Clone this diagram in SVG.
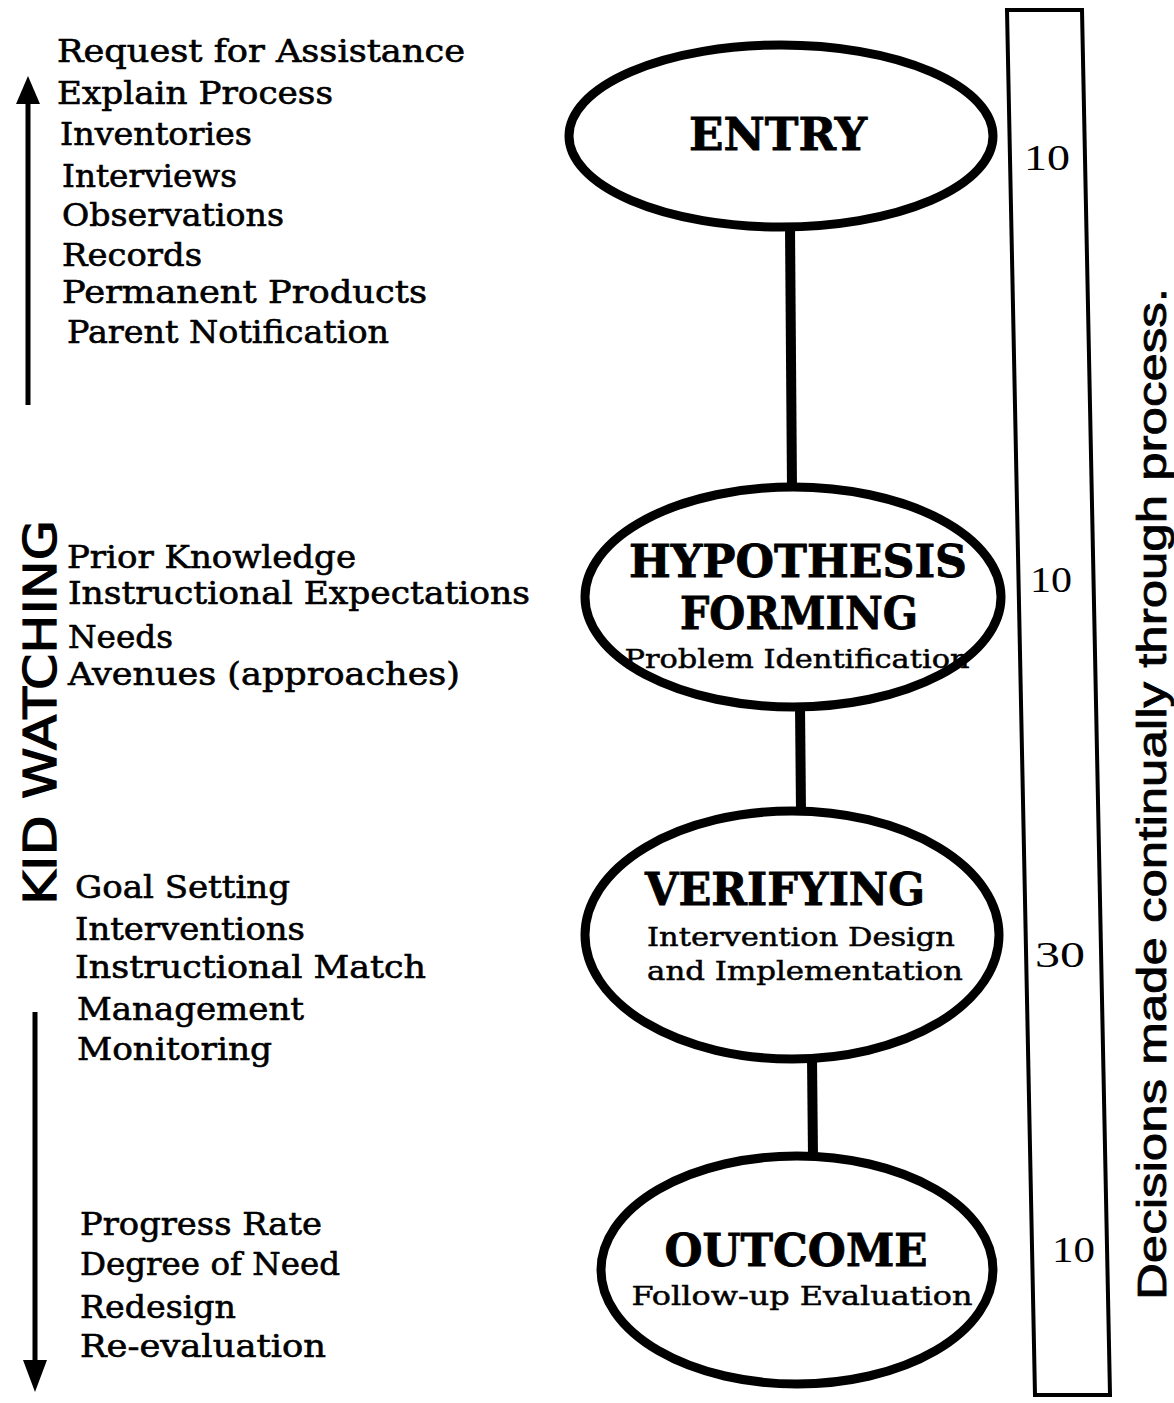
<svg xmlns="http://www.w3.org/2000/svg" width="1174" height="1403" viewBox="0 0 1174 1403">
<style>
.lst{font-family:"DejaVu Serif","Liberation Serif",serif;font-size:31px;fill:#000;stroke:#000;stroke-width:0.6}
.ttl{font-family:"DejaVu Serif","Liberation Serif",serif;font-weight:bold;font-size:44px;fill:#000;stroke:#000;stroke-width:0.8}
.sub{font-family:"DejaVu Serif","Liberation Serif",serif;font-size:26px;fill:#000;stroke:#000;stroke-width:0.5}
.num{font-family:"Liberation Serif","DejaVu Serif",serif;font-size:36px;fill:#000}
.node{fill:#fff;stroke:#000;stroke-width:9}
.conn{stroke:#000;stroke-width:10;fill:none}
.arr{stroke:#000;stroke-width:5;fill:none}
.side{font-family:"Liberation Sans","DejaVu Sans",sans-serif;font-size:40px;fill:#000;stroke:#000;stroke-width:0.8}
.kid{font-family:"DejaVu Sans","Liberation Sans",sans-serif;font-size:44px;fill:#000;stroke:#000;stroke-width:1.2}
</style>
<rect width="1174" height="1403" fill="#fff"/>
<g id="connectors">
<line class="conn" x1="790" y1="226" x2="792" y2="489"/>
<line class="conn" x1="800" y1="705" x2="801" y2="812"/>
<line class="conn" x1="812" y1="1058" x2="813" y2="1157"/>
</g>
<g id="entry">
<ellipse class="node" cx="781" cy="136" rx="212" ry="91"/>
<text class="ttl" x="778" y="150" text-anchor="middle" textLength="178" lengthAdjust="spacingAndGlyphs">ENTRY</text>
</g>
<g id="hypothesis">
<ellipse class="node" cx="793" cy="597" rx="208" ry="110"/>
<text class="ttl" x="798" y="577" text-anchor="middle" textLength="338" lengthAdjust="spacingAndGlyphs">HYPOTHESIS</text>
<text class="ttl" x="799" y="629" text-anchor="middle" textLength="238" lengthAdjust="spacingAndGlyphs">FORMING</text>
<text class="sub" x="797" y="668" text-anchor="middle" textLength="345" lengthAdjust="spacingAndGlyphs">Problem Identification</text>
</g>
<g id="verifying">
<ellipse class="node" cx="792" cy="935" rx="207" ry="124"/>
<text class="ttl" x="785" y="905" text-anchor="middle" textLength="280" lengthAdjust="spacingAndGlyphs">VERIFYING</text>
<text class="sub" x="801" y="946" text-anchor="middle" textLength="308" lengthAdjust="spacingAndGlyphs">Intervention Design</text>
<text class="sub" x="805" y="980" text-anchor="middle" textLength="316" lengthAdjust="spacingAndGlyphs">and Implementation</text>
</g>
<g id="outcome">
<ellipse class="node" cx="797" cy="1270" rx="196" ry="114"/>
<text class="ttl" x="796" y="1266" text-anchor="middle" textLength="263" lengthAdjust="spacingAndGlyphs">OUTCOME</text>
<text class="sub" x="802" y="1305" text-anchor="middle" textLength="341" lengthAdjust="spacingAndGlyphs">Follow-up Evaluation</text>
</g>
<g id="scale">
<polygon points="1007,10 1082,10 1110,1395 1035,1395" fill="none" stroke="#000" stroke-width="4"/>
<text class="num" x="1024" y="170" textLength="46" lengthAdjust="spacingAndGlyphs">10</text>
<text class="num" x="1030" y="592" textLength="42" lengthAdjust="spacingAndGlyphs">10</text>
<text class="num" x="1035" y="967" textLength="50" lengthAdjust="spacingAndGlyphs">30</text>
<text class="num" x="1052" y="1262" textLength="43" lengthAdjust="spacingAndGlyphs">10</text>
<text class="side" transform="translate(1166,1300) rotate(-90)" textLength="1012" lengthAdjust="spacingAndGlyphs">Decisions made continually through process.</text>
</g>
<g id="kid-watching">
<text class="kid" transform="translate(56,905) rotate(-90)" textLength="385" lengthAdjust="spacingAndGlyphs">KID WATCHING</text>
</g>
<g id="arrows">
<line class="arr" x1="28" y1="405" x2="28" y2="100"/>
<polygon points="28,76 16,104 40,104" fill="#000"/>
<line class="arr" x1="35" y1="1012" x2="35" y2="1362"/>
<polygon points="35,1392 23,1360 47,1360" fill="#000"/>
</g>
<g id="list-entry">
<text class="lst" x="57" y="62" textLength="408" lengthAdjust="spacingAndGlyphs">Request  for Assistance</text>
<text class="lst" x="57" y="104" textLength="276" lengthAdjust="spacingAndGlyphs">Explain Process</text>
<text class="lst" x="60" y="145" textLength="192" lengthAdjust="spacingAndGlyphs">Inventories</text>
<text class="lst" x="62" y="187" textLength="175" lengthAdjust="spacingAndGlyphs">Interviews</text>
<text class="lst" x="62" y="226" textLength="222" lengthAdjust="spacingAndGlyphs">Observations</text>
<text class="lst" x="62" y="266" textLength="140" lengthAdjust="spacingAndGlyphs">Records</text>
<text class="lst" x="62" y="303" textLength="365" lengthAdjust="spacingAndGlyphs">Permanent Products</text>
<text class="lst" x="67" y="343" textLength="322" lengthAdjust="spacingAndGlyphs">Parent Notification</text>
</g>
<g id="list-hypothesis">
<text class="lst" x="67" y="568" textLength="289" lengthAdjust="spacingAndGlyphs">Prior Knowledge</text>
<text class="lst" x="68" y="604" textLength="462" lengthAdjust="spacingAndGlyphs">Instructional Expectations</text>
<text class="lst" x="68" y="648" textLength="105" lengthAdjust="spacingAndGlyphs">Needs</text>
<text class="lst" x="68" y="685" textLength="392" lengthAdjust="spacingAndGlyphs">Avenues (approaches)</text>
</g>
<g id="list-verifying">
<text class="lst" x="75" y="898" textLength="215" lengthAdjust="spacingAndGlyphs">Goal Setting</text>
<text class="lst" x="75" y="940" textLength="230" lengthAdjust="spacingAndGlyphs">Interventions</text>
<text class="lst" x="75" y="978" textLength="351" lengthAdjust="spacingAndGlyphs">Instructional Match</text>
<text class="lst" x="77" y="1020" textLength="227" lengthAdjust="spacingAndGlyphs">Management</text>
<text class="lst" x="77" y="1060" textLength="195" lengthAdjust="spacingAndGlyphs">Monitoring</text>
</g>
<g id="list-outcome">
<text class="lst" x="80" y="1235" textLength="242" lengthAdjust="spacingAndGlyphs">Progress Rate</text>
<text class="lst" x="80" y="1275" textLength="260" lengthAdjust="spacingAndGlyphs">Degree of Need</text>
<text class="lst" x="80" y="1318" textLength="156" lengthAdjust="spacingAndGlyphs">Redesign</text>
<text class="lst" x="80" y="1357" textLength="246" lengthAdjust="spacingAndGlyphs">Re-evaluation</text>
</g>
</svg>
